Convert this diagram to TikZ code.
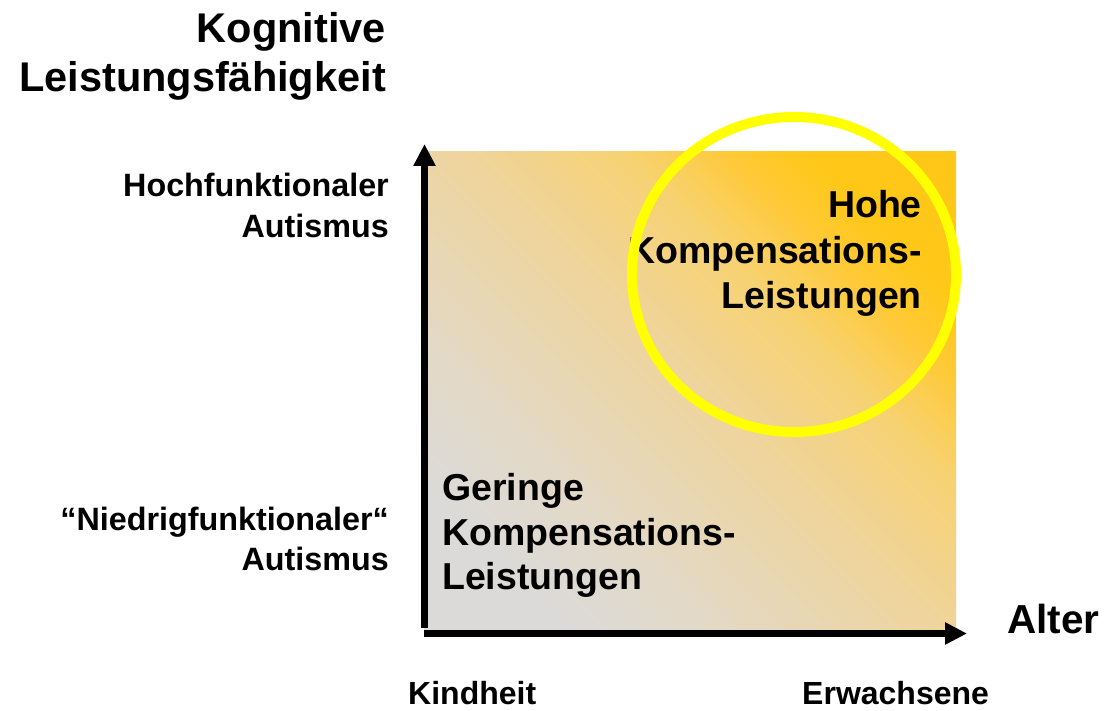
\documentclass[tikz,border=0pt]{standalone}
\usepackage{fontspec}
\setmainfont{Liberation Sans}
\usetikzlibrary{arrows.meta}
\definecolor{cA}{HTML}{DCDAD8}
\definecolor{cB}{HTML}{E3D9C6}
\definecolor{cC}{HTML}{EFD49C}
\definecolor{cD}{HTML}{F7D273}
\definecolor{cE}{HTML}{FFC934}
\definecolor{cF}{HTML}{FFC818}
\definecolor{ring}{HTML}{FFFF00}
\pgfdeclareverticalshading{bgshade}{100bp}{color(0bp)=(cA); color(25bp)=(cA); color(35bp)=(cB); color(51bp)=(cC); color(62bp)=(cD); color(70bp)=(cE); color(75bp)=(cF); color(100bp)=(cF)}
\tikzset{
  lab/.style={inner sep=0pt, font=\bfseries\fontsize{#1}{#1}\selectfont},
  axisline/.style={line width=7pt, -{Triangle[width=21pt,length=22pt]}},
}
\begin{document}
\begin{tikzpicture}[x=1pt,y=-1pt]
\useasboundingbox (0,0) rectangle (1110,711);
% gradient field
\shade[shading=bgshade, shading angle=-45] (424,152) rectangle (956,630);
% axes
\coordinate (yfoot) at (424.5,628);
\coordinate (ytip) at (424.5,144);
\coordinate (xfoot) at (424,633.5);
\coordinate (xtip) at (967,633.5);
\draw[axisline] (yfoot) -- (ytip);
\draw[axisline] (xfoot) -- (xtip);
% axis titles
\node[lab=41.5, anchor=base east] (kog1) at (386,43) {Kognitive};
\node[lab=41.5, anchor=base east] (kog2) at (386,92) {Leistungsfähigkeit};
\node[lab=40.5, anchor=base west] (alter) at (1007,633) {Alter};
% y labels
\node[lab=32.3, anchor=base east] (hf1) at (389,197) {Hochfunktionaler};
\node[lab=32.3, anchor=base east] (hf2) at (389,237) {Autismus};
\node[lab=32.3, anchor=base east] (nf1) at (389,530) {“Niedrigfunktionaler“};
\node[lab=32.3, anchor=base east] (nf2) at (389,570) {Autismus};
% x labels
\node[lab=32, anchor=base west] (kind) at (408,704) {Kindheit};
\node[lab=32, anchor=base west] (erw) at (802,704) {Erwachsene};
% region labels
\node[lab=37.5, anchor=base west] (g1) at (442,500) {Geringe};
\node[lab=37.5, anchor=base west] (g2) at (442,545) {Kompensations-};
\node[lab=37.5, anchor=base west] (g3) at (442,589) {Leistungen};
\node[lab=37.5, anchor=base east] (h1) at (922,218) {Hohe};
\node[lab=37.5, anchor=base east] (h2) at (922,263) {Kompensations-};
\node[lab=37.5, anchor=base east] (h3) at (922,308) {Leistungen};
% highlight ring
\draw[ring, line width=10pt] (794,274.5) ellipse [x radius=162, y radius=157.5];
\end{tikzpicture}
\end{document}
